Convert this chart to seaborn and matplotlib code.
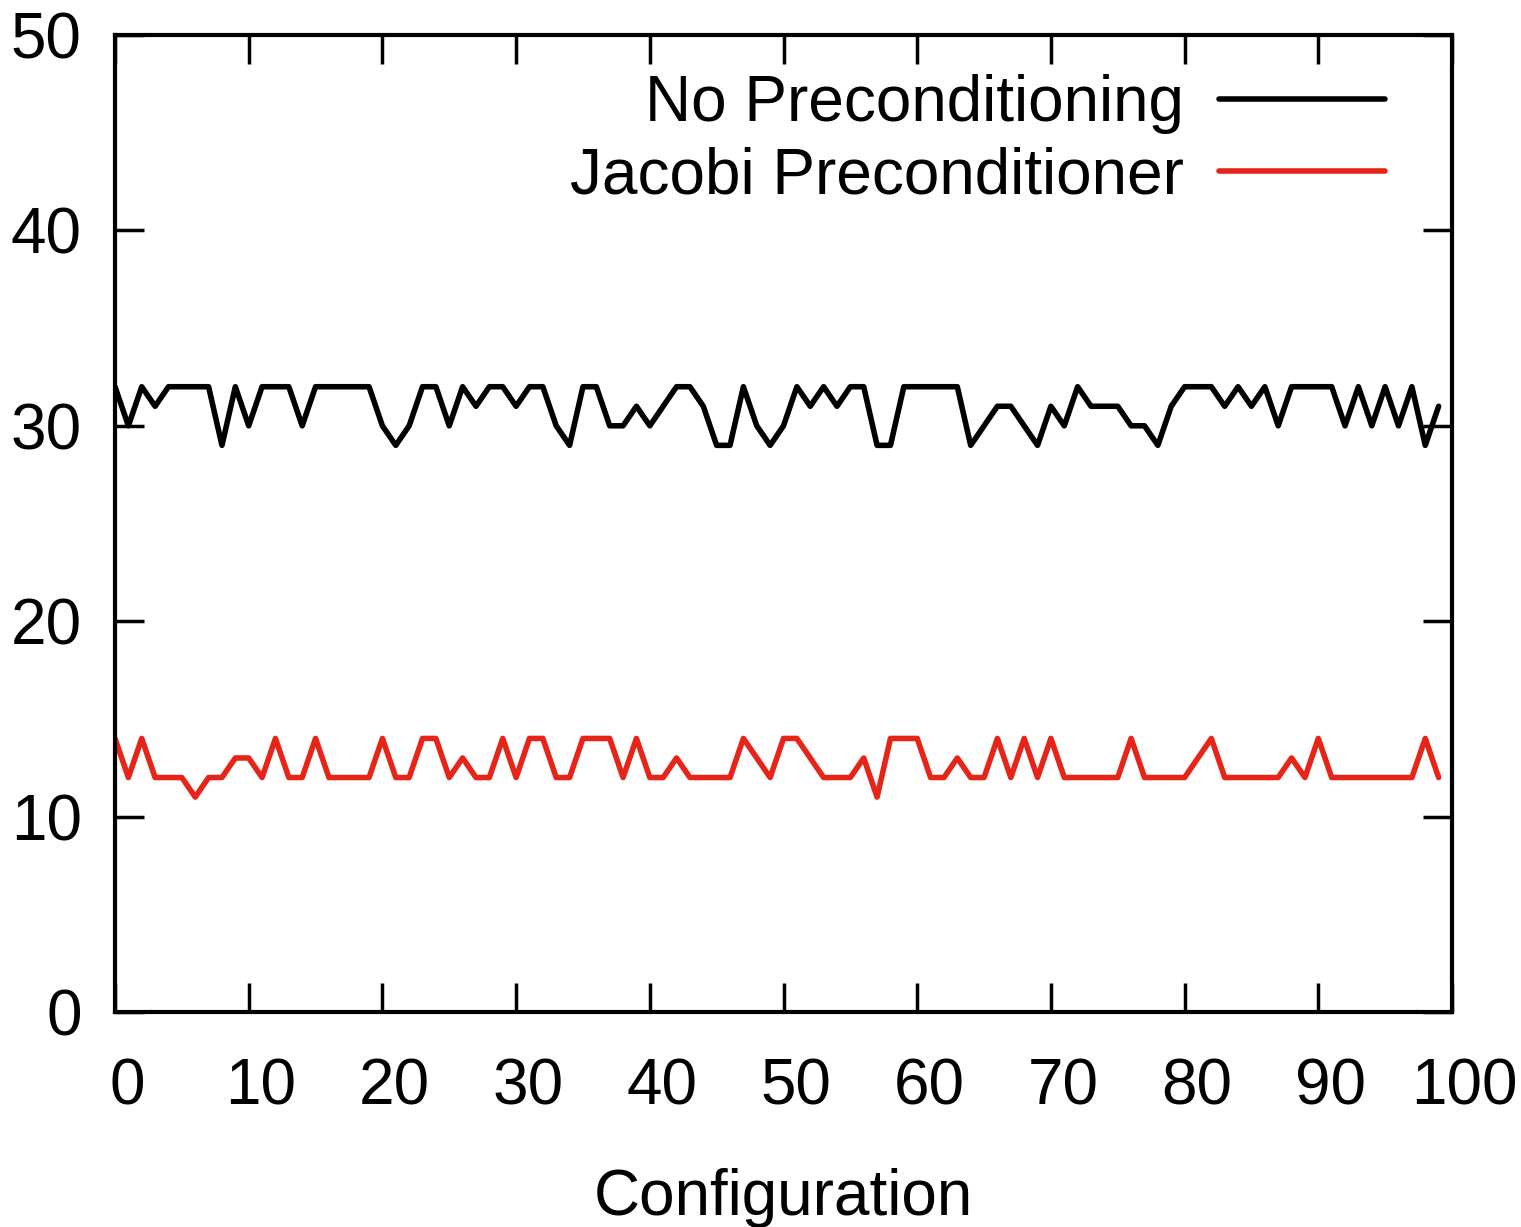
import numpy as np
import pandas as pd
import matplotlib
matplotlib.use("Agg")
import matplotlib.pyplot as plt
import matplotlib.transforms as mtransforms
import seaborn as sns

configuration = list(range(100))

no_precond = [32, 30, 32, 31, 32, 32, 32, 32, 29, 32,
              30, 32, 32, 32, 30, 32, 32, 32, 32, 32,
              30, 29, 30, 32, 32, 30, 32, 31, 32, 32,
              31, 32, 32, 30, 29, 32, 32, 30, 30, 31,
              30, 31, 32, 32, 31, 29, 29, 32, 30, 29,
              30, 32, 31, 32, 31, 32, 32, 29, 29, 32,
              32, 32, 32, 32, 29, 30, 31, 31, 30, 29,
              31, 30, 32, 31, 31, 31, 30, 30, 29, 31,
              32, 32, 32, 31, 32, 31, 32, 30, 32, 32,
              32, 32, 30, 32, 30, 32, 30, 32, 29, 31]

jacobi = [14, 12, 14, 12, 12, 12, 11, 12, 12, 13,
          13, 12, 14, 12, 12, 14, 12, 12, 12, 12,
          14, 12, 12, 14, 14, 12, 13, 12, 12, 14,
          12, 14, 14, 12, 12, 14, 14, 14, 12, 14,
          12, 12, 13, 12, 12, 12, 12, 14, 13, 12,
          14, 14, 13, 12, 12, 12, 13, 11, 14, 14,
          14, 12, 12, 13, 12, 12, 14, 12, 14, 12,
          14, 12, 12, 12, 12, 12, 14, 12, 12, 12,
          12, 13, 14, 12, 12, 12, 12, 12, 13, 12,
          14, 12, 12, 12, 12, 12, 12, 12, 14, 12]

series_names = ["No Preconditioning", "Jacobi Preconditioner"]
x_ticks = [0, 10, 20, 30, 40, 50, 60, 70, 80, 90, 100]
y_ticks = [0, 10, 20, 30, 40, 50]

df = pd.DataFrame({
    "Configuration": configuration * 2,
    "value": no_precond + jacobi,
    "series": [series_names[0]] * len(configuration) + [series_names[1]] * len(configuration),
})

sns.set_theme(style="white")
plt.rcParams["font.family"] = ["Liberation Sans", "DejaVu Sans"]
plt.rcParams["text.color"] = "black"
plt.rcParams["axes.labelcolor"] = "black"
plt.rcParams["xtick.color"] = "black"
plt.rcParams["ytick.color"] = "black"

FS = 46

fig = plt.figure(figsize=(15.21, 12.27), dpi=100)
ax = fig.add_axes([115 / 1521, 1 - 1012 / 1227, 1337 / 1521, 977 / 1227])

sns.lineplot(data=df, x="Configuration", y="value", hue="series",
             palette=["#000000", "#e62417"], linewidth=4.0, ax=ax,
             legend=True)

ax.set_xlim(0, 100)
ax.set_ylim(0, 50)
ax.set_xticks(x_ticks)
ax.set_yticks(y_ticks)
ax.set_xlabel("Configuration", fontsize=FS, labelpad=36, color="black")
ax.set_ylabel("")
for s in ax.spines.values():
    s.set_visible(True)
    s.set_linewidth(3)
    s.set_color("black")
ax.tick_params(axis="both", which="major", direction="in", length=21, width=2.5,
               labelsize=FS, top=True, right=True, bottom=True, left=True,
               color="black", labelcolor="black")
ax.tick_params(axis="x", pad=33)
ax.tick_params(axis="y", pad=24)

offset = mtransforms.ScaledTranslation(12 / 100, 0, fig.dpi_scale_trans)
for lab in ax.get_xticklabels():
    lab.set_transform(lab.get_transform() + offset)

handles, labels = ax.get_legend_handles_labels()
leg = ax.legend(handles, labels, loc="upper right", bbox_to_anchor=(0.95, 0.96),
                frameon=False, fontsize=FS, markerfirst=False,
                handlelength=2.6, handletextpad=0.55, labelspacing=0.2,
                borderaxespad=0, borderpad=0)
for t in leg.get_texts():
    t.set_ha("right")
    t.set_color("black")
for line in leg.get_lines():
    line.set_linewidth(4.0)

fig.savefig("out.png", dpi=100)
